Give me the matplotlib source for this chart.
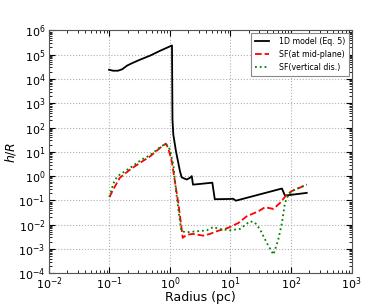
import numpy as np
import matplotlib
matplotlib.use("Agg")
import matplotlib.pyplot as plt

# 1D model (Eq. 5)
model_logx = [-1.008, -0.94, -0.86, -0.79, -0.71, -0.61, -0.50, -0.33, -0.165, -0.083, 0.033,
              0.041, 0.055, 0.099, 0.165, 0.193, 0.276, 0.33, 0.36, 0.38, 0.66, 0.70, 0.74,
              0.99, 1.04, 1.09, 1.85, 1.90, 2.26]
model_logy = [4.38, 4.34, 4.34, 4.40, 4.55, 4.67, 4.79, 4.96, 5.16, 5.25, 5.38,
              2.33, 1.71, 1.02, 0.20, -0.05, -0.14, -0.07, 0.0, -0.35, -0.28, -0.27, -0.95,
              -0.94, -0.93, -1.01, -0.51, -0.80, -0.69]

# SF (at mid-plane)
mid_logx = [-1.0, -0.94, -0.83, -0.66, -0.50, -0.33, -0.165, -0.07, -0.03, 0.03, 0.08, 0.14,
            0.18, 0.21, 0.28, 0.38, 0.55, 0.66, 0.77, 0.96, 1.13, 1.27, 1.46, 1.57, 1.71,
            1.82, 1.93, 2.01, 2.26]
mid_logy = [-0.86, -0.56, -0.07, 0.27, 0.54, 0.81, 1.16, 1.34, 1.16, 0.61, -0.20, -1.15,
            -1.93, -2.54, -2.41, -2.38, -2.45, -2.38, -2.27, -2.13, -1.93, -1.65, -1.45, -1.28, -1.35,
            -1.10, -0.76, -0.62, -0.35]

# SF (vertical dis.)
vert_logx = [-1.0, -0.96, -0.91, -0.83, -0.66, -0.47, -0.33, -0.165, -0.07, 0.0, 0.055, 0.10,
             0.15, 0.19, 0.28, 0.45, 0.61, 0.72, 0.80, 0.99, 1.16, 1.32, 1.40, 1.49, 1.60,
             1.71, 1.79, 1.85, 1.90, 1.96, 2.01, 2.26]
vert_logy = [-0.86, -0.49, -0.14, 0.06, 0.34, 0.68, 0.86, 1.19, 1.34, 1.09, 0.47, -0.60,
             -1.60, -2.27, -2.31, -2.27, -2.23, -2.09, -2.17, -2.23, -2.17, -1.86, -1.90, -2.20, -2.75,
             -3.23, -2.61, -1.93, -1.10, -0.76, -0.62, -0.35]

fig = plt.figure(figsize=(3.9, 3.04), dpi=100)
ax = fig.add_axes([0.1256, 0.101, 0.7757, 0.799])

ax.plot(10**np.array(model_logx), 10**np.array(model_logy), color='black', lw=1.3,
        label='1D model (Eq. 5)')
ax.plot(10**np.array(mid_logx), 10**np.array(mid_logy), color='red', lw=1.3, ls='--',
        label='SF(at mid-plane)')
ax.plot(10**np.array(vert_logx), 10**np.array(vert_logy), color='green', lw=1.3, ls=':',
        label='SF(vertical dis.)')

ax.set_xscale('log')
ax.set_yscale('log')
ax.set_xlim(1e-2, 1e3)
ax.set_ylim(1e-4, 1e6)
ax.set_xticks([10.0**k for k in range(-2, 4)])
ax.set_yticks([10.0**k for k in range(-4, 7)])
ax.tick_params(which='both', direction='in', top=True, right=True, labelsize=8)
ax.tick_params(axis='x', pad=1.5)
ax.tick_params(axis='y', pad=2.5)
ax.tick_params(which='major', length=4)
ax.tick_params(which='minor', length=2)
ax.grid(True, which='major', ls=':', color='#b0b0b0', lw=0.8)
for s in ax.spines.values():
    s.set_color('#555555')

ax.set_xlabel('Radius (pc)', fontsize=9, labelpad=-1)
ax.set_ylabel('$h/R$', fontsize=9, labelpad=0)

leg = ax.legend(loc='upper right', fontsize=5.7, fancybox=False, framealpha=1,
                edgecolor='#888888', handlelength=1.8, borderpad=0.5, labelspacing=0.5,
                handletextpad=1.2, borderaxespad=0.3)
leg.get_frame().set_linewidth(0.8)

fig.savefig('out.png', dpi=100)
